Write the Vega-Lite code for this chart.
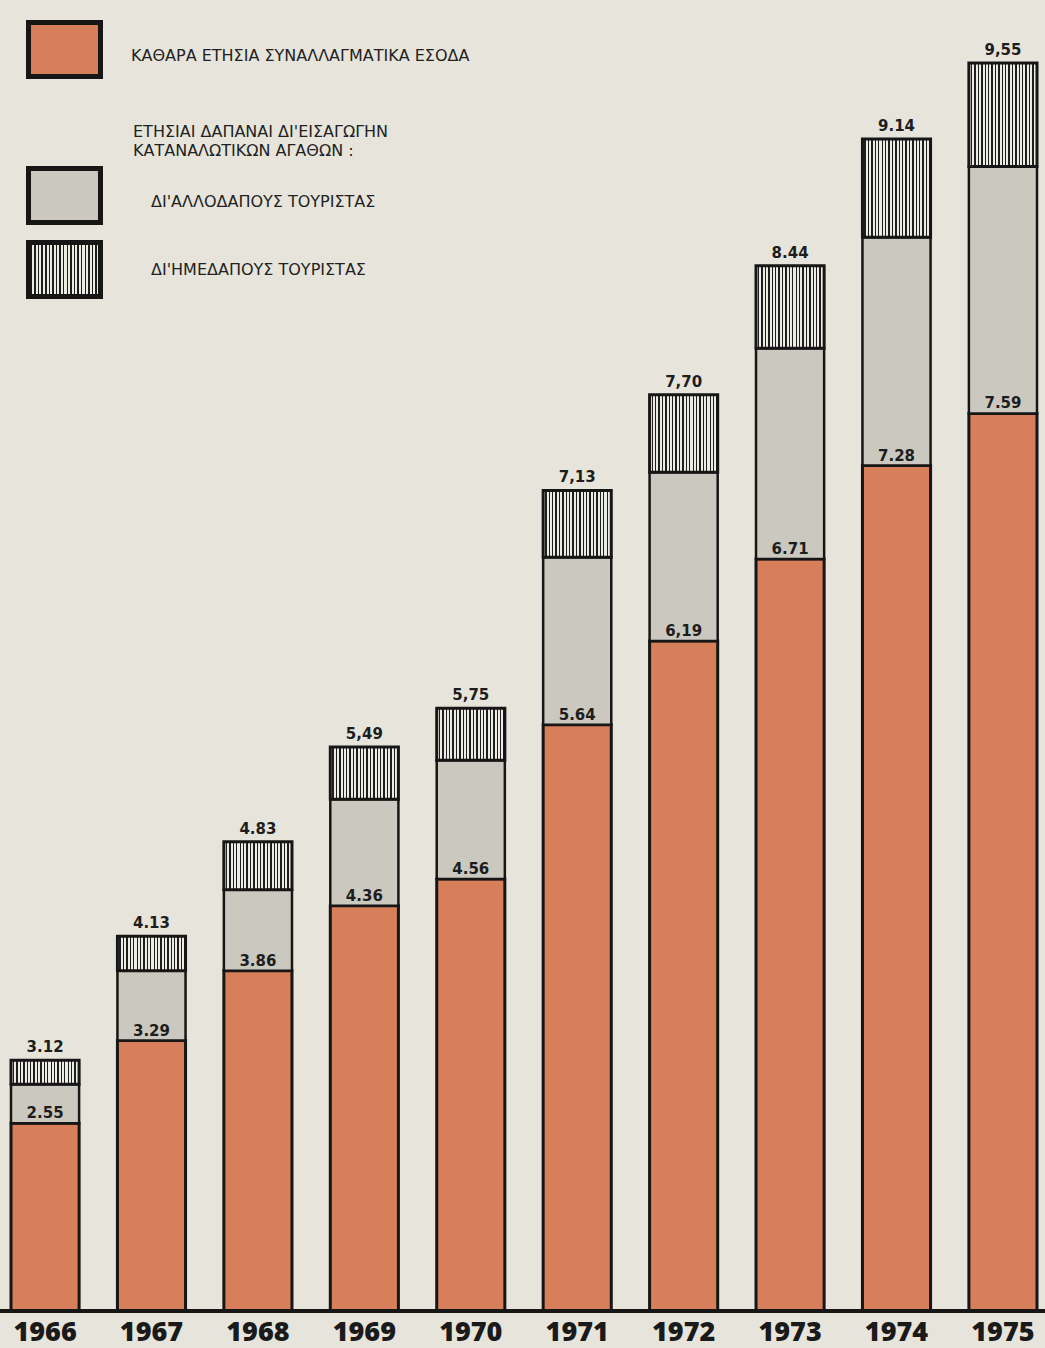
{
  "$schema": "https://vega.github.io/schema/vega-lite/v6.json",
  "width": 1045,
  "height": 1311,
  "autosize": {"type": "none"},
  "padding": {"left": 0, "top": 0, "right": 0, "bottom": 37},
  "background": "#e7e5db",
  "title": {
    "text": ["ΕΤΗΣΙΑΙ ΔΑΠΑΝΑΙ ΔΙ'ΕΙΣΑΓΩΓΗΝ", "ΚΑΤΑΝΑΛΩΤΙΚΩΝ ΑΓΑΘΩΝ :"],
    "anchor": "start",
    "frame": "group",
    "offset": 0,
    "dx": 133,
    "dy": 159,
    "baseline": "top",
    "font": "DejaVu Sans",
    "fontSize": 16,
    "fontWeight": "normal",
    "color": "#222222",
    "lineHeight": 19
  },
  "data": {
    "values": [
      {"year": "1966", "series": "ΚΑΘΑΡΑ ΕΤΗΣΙΑ ΣΥΝΑΛΛΑΓΜΑΤΙΚΑ ΕΣΟΔΑ", "stack_order": 1, "amount": 2.55, "label": "2.55"},
      {"year": "1966", "series": "ΔΙ'ΑΛΛΟΔΑΠΟΥΣ ΤΟΥΡΙΣΤΑΣ", "stack_order": 2, "amount": 0.36, "label": ""},
      {"year": "1966", "series": "ΔΙ'ΗΜΕΔΑΠΟΥΣ ΤΟΥΡΙΣΤΑΣ", "stack_order": 3, "amount": 0.21, "label": "3.12"},
      {"year": "1967", "series": "ΚΑΘΑΡΑ ΕΤΗΣΙΑ ΣΥΝΑΛΛΑΓΜΑΤΙΚΑ ΕΣΟΔΑ", "stack_order": 1, "amount": 3.29, "label": "3.29"},
      {"year": "1967", "series": "ΔΙ'ΑΛΛΟΔΑΠΟΥΣ ΤΟΥΡΙΣΤΑΣ", "stack_order": 2, "amount": 0.57, "label": ""},
      {"year": "1967", "series": "ΔΙ'ΗΜΕΔΑΠΟΥΣ ΤΟΥΡΙΣΤΑΣ", "stack_order": 3, "amount": 0.27, "label": "4.13"},
      {"year": "1968", "series": "ΚΑΘΑΡΑ ΕΤΗΣΙΑ ΣΥΝΑΛΛΑΓΜΑΤΙΚΑ ΕΣΟΔΑ", "stack_order": 1, "amount": 3.86, "label": "3.86"},
      {"year": "1968", "series": "ΔΙ'ΑΛΛΟΔΑΠΟΥΣ ΤΟΥΡΙΣΤΑΣ", "stack_order": 2, "amount": 0.62, "label": ""},
      {"year": "1968", "series": "ΔΙ'ΗΜΕΔΑΠΟΥΣ ΤΟΥΡΙΣΤΑΣ", "stack_order": 3, "amount": 0.35, "label": "4.83"},
      {"year": "1969", "series": "ΚΑΘΑΡΑ ΕΤΗΣΙΑ ΣΥΝΑΛΛΑΓΜΑΤΙΚΑ ΕΣΟΔΑ", "stack_order": 1, "amount": 4.36, "label": "4.36"},
      {"year": "1969", "series": "ΔΙ'ΑΛΛΟΔΑΠΟΥΣ ΤΟΥΡΙΣΤΑΣ", "stack_order": 2, "amount": 0.77, "label": ""},
      {"year": "1969", "series": "ΔΙ'ΗΜΕΔΑΠΟΥΣ ΤΟΥΡΙΣΤΑΣ", "stack_order": 3, "amount": 0.36, "label": "5,49"},
      {"year": "1970", "series": "ΚΑΘΑΡΑ ΕΤΗΣΙΑ ΣΥΝΑΛΛΑΓΜΑΤΙΚΑ ΕΣΟΔΑ", "stack_order": 1, "amount": 4.56, "label": "4.56"},
      {"year": "1970", "series": "ΔΙ'ΑΛΛΟΔΑΠΟΥΣ ΤΟΥΡΙΣΤΑΣ", "stack_order": 2, "amount": 0.84, "label": ""},
      {"year": "1970", "series": "ΔΙ'ΗΜΕΔΑΠΟΥΣ ΤΟΥΡΙΣΤΑΣ", "stack_order": 3, "amount": 0.35, "label": "5,75"},
      {"year": "1971", "series": "ΚΑΘΑΡΑ ΕΤΗΣΙΑ ΣΥΝΑΛΛΑΓΜΑΤΙΚΑ ΕΣΟΔΑ", "stack_order": 1, "amount": 5.64, "label": "5.64"},
      {"year": "1971", "series": "ΔΙ'ΑΛΛΟΔΑΠΟΥΣ ΤΟΥΡΙΣΤΑΣ", "stack_order": 2, "amount": 1.08, "label": ""},
      {"year": "1971", "series": "ΔΙ'ΗΜΕΔΑΠΟΥΣ ΤΟΥΡΙΣΤΑΣ", "stack_order": 3, "amount": 0.41, "label": "7,13"},
      {"year": "1972", "series": "ΚΑΘΑΡΑ ΕΤΗΣΙΑ ΣΥΝΑΛΛΑΓΜΑΤΙΚΑ ΕΣΟΔΑ", "stack_order": 1, "amount": 6.19, "label": "6,19"},
      {"year": "1972", "series": "ΔΙ'ΑΛΛΟΔΑΠΟΥΣ ΤΟΥΡΙΣΤΑΣ", "stack_order": 2, "amount": 1.05, "label": ""},
      {"year": "1972", "series": "ΔΙ'ΗΜΕΔΑΠΟΥΣ ΤΟΥΡΙΣΤΑΣ", "stack_order": 3, "amount": 0.46, "label": "7,70"},
      {"year": "1973", "series": "ΚΑΘΑΡΑ ΕΤΗΣΙΑ ΣΥΝΑΛΛΑΓΜΑΤΙΚΑ ΕΣΟΔΑ", "stack_order": 1, "amount": 6.71, "label": "6.71"},
      {"year": "1973", "series": "ΔΙ'ΑΛΛΟΔΑΠΟΥΣ ΤΟΥΡΙΣΤΑΣ", "stack_order": 2, "amount": 1.26, "label": ""},
      {"year": "1973", "series": "ΔΙ'ΗΜΕΔΑΠΟΥΣ ΤΟΥΡΙΣΤΑΣ", "stack_order": 3, "amount": 0.47, "label": "8.44"},
      {"year": "1974", "series": "ΚΑΘΑΡΑ ΕΤΗΣΙΑ ΣΥΝΑΛΛΑΓΜΑΤΙΚΑ ΕΣΟΔΑ", "stack_order": 1, "amount": 7.28, "label": "7.28"},
      {"year": "1974", "series": "ΔΙ'ΑΛΛΟΔΑΠΟΥΣ ΤΟΥΡΙΣΤΑΣ", "stack_order": 2, "amount": 1.32, "label": ""},
      {"year": "1974", "series": "ΔΙ'ΗΜΕΔΑΠΟΥΣ ΤΟΥΡΙΣΤΑΣ", "stack_order": 3, "amount": 0.54, "label": "9.14"},
      {"year": "1975", "series": "ΚΑΘΑΡΑ ΕΤΗΣΙΑ ΣΥΝΑΛΛΑΓΜΑΤΙΚΑ ΕΣΟΔΑ", "stack_order": 1, "amount": 7.59, "label": "7.59"},
      {"year": "1975", "series": "ΔΙ'ΑΛΛΟΔΑΠΟΥΣ ΤΟΥΡΙΣΤΑΣ", "stack_order": 2, "amount": 1.40, "label": ""},
      {"year": "1975", "series": "ΔΙ'ΗΜΕΔΑΠΟΥΣ ΤΟΥΡΙΣΤΑΣ", "stack_order": 3, "amount": 0.56, "label": "9,55"}
    ]
  },
  "transform": [
    {"stack": "amount", "groupby": ["year"], "sort": [{"field": "stack_order", "order": "ascending"}], "as": ["lo", "hi"]}
  ],
  "layer": [
    {
      "transform": [{"filter": "datum.stack_order == 1"}],
      "mark": {"type": "bar", "stroke": "#161616", "strokeWidth": 3},
      "encoding": {
        "x": {"field": "year", "type": "ordinal", "scale": {"range": [11, 1037], "paddingInner": 0.36, "paddingOuter": 0},
              "axis": {"title": null, "domain": false, "ticks": false, "labelAngle": 0, "labelFont": "Open Sans", "labelFontSize": 27, "labelFontWeight": 800, "labelColor": "#1a1a1a", "labelPadding": 8}},
        "y": {"field": "hi", "type": "quantitative", "scale": {"type": "pow", "exponent": 1.435, "domain": [0, 9.883], "nice": false, "zero": true}, "axis": null},
        "y2": {"field": "lo"},
        "fill": {"field": "series", "type": "nominal",
                 "scale": {"domain": ["ΚΑΘΑΡΑ ΕΤΗΣΙΑ ΣΥΝΑΛΛΑΓΜΑΤΙΚΑ ΕΣΟΔΑ"], "range": ["#d67f5a"]},
                 "legend": {"title": null, "orient": "none", "legendX": 35, "legendY": 20, "padding": 0,
                            "symbolType": "M-1.333,-1L1.333,-1L1.333,1L-1.333,1Z", "symbolSize": 2916,
                            "symbolStrokeColor": "#161616", "symbolStrokeWidth": 5, "symbolOpacity": 1,
                            "labelOffset": 37, "labelFont": "DejaVu Sans", "labelFontSize": 16, "labelColor": "#222222", "labelLimit": 0,
                            "encode": {"labels": {"update": {"dy": {"value": 6}}}}}}
      }
    },
    {
      "transform": [{"filter": "datum.stack_order == 2"}],
      "mark": {"type": "bar", "stroke": "#161616", "strokeWidth": 2.5},
      "encoding": {
        "x": {"field": "year", "type": "ordinal", "scale": {"range": [11, 1037], "paddingInner": 0.36, "paddingOuter": 0},
              "axis": {"title": null, "domain": false, "ticks": false, "labelAngle": 0, "labelFont": "Open Sans", "labelFontSize": 27, "labelFontWeight": 800, "labelColor": "#1a1a1a", "labelPadding": 8}},
        "y": {"field": "hi", "type": "quantitative", "scale": {"type": "pow", "exponent": 1.435, "domain": [0, 9.883], "nice": false, "zero": true}, "axis": null},
        "y2": {"field": "lo"},
        "fill": {"field": "series", "type": "nominal",
                 "scale": {"domain": ["ΔΙ'ΑΛΛΟΔΑΠΟΥΣ ΤΟΥΡΙΣΤΑΣ"], "range": ["#cac8bf"]},
                 "legend": {"title": null, "orient": "none", "legendX": 35, "legendY": 166, "padding": 0,
                            "symbolType": "M-1.333,-1L1.333,-1L1.333,1L-1.333,1Z", "symbolSize": 2916,
                            "symbolStrokeColor": "#161616", "symbolStrokeWidth": 5, "symbolOpacity": 1,
                            "labelOffset": 57, "labelFont": "DejaVu Sans", "labelFontSize": 16, "labelColor": "#222222", "labelLimit": 0,
                            "encode": {"labels": {"update": {"dy": {"value": 6}}}}}}
      }
    },
    {
      "transform": [{"filter": "datum.stack_order == 3"}],
      "mark": {"type": "bar", "strokeWidth": 3,
               "fill": {"gradient": "linear", "x1": 0, "y1": 0, "x2": 1, "y2": 0, "stops": [
                             {"offset": 0.00, "color": "#ecebe4"}, {"offset": 0.03, "color": "#ecebe4"}, {"offset": 0.03, "color": "#1e1e1e"}, {"offset": 0.05, "color": "#1e1e1e"},
                             {"offset": 0.05, "color": "#ecebe4"}, {"offset": 0.08, "color": "#ecebe4"}, {"offset": 0.08, "color": "#1e1e1e"}, {"offset": 0.10, "color": "#1e1e1e"},
                             {"offset": 0.10, "color": "#ecebe4"}, {"offset": 0.13, "color": "#ecebe4"}, {"offset": 0.13, "color": "#1e1e1e"}, {"offset": 0.15, "color": "#1e1e1e"},
                             {"offset": 0.15, "color": "#ecebe4"}, {"offset": 0.18, "color": "#ecebe4"}, {"offset": 0.18, "color": "#1e1e1e"}, {"offset": 0.20, "color": "#1e1e1e"},
                             {"offset": 0.20, "color": "#ecebe4"}, {"offset": 0.23, "color": "#ecebe4"}, {"offset": 0.23, "color": "#1e1e1e"}, {"offset": 0.25, "color": "#1e1e1e"},
                             {"offset": 0.25, "color": "#ecebe4"}, {"offset": 0.28, "color": "#ecebe4"}, {"offset": 0.28, "color": "#1e1e1e"}, {"offset": 0.30, "color": "#1e1e1e"},
                             {"offset": 0.30, "color": "#ecebe4"}, {"offset": 0.33, "color": "#ecebe4"}, {"offset": 0.33, "color": "#1e1e1e"}, {"offset": 0.35, "color": "#1e1e1e"},
                             {"offset": 0.35, "color": "#ecebe4"}, {"offset": 0.38, "color": "#ecebe4"}, {"offset": 0.38, "color": "#1e1e1e"}, {"offset": 0.40, "color": "#1e1e1e"},
                             {"offset": 0.40, "color": "#ecebe4"}, {"offset": 0.43, "color": "#ecebe4"}, {"offset": 0.43, "color": "#1e1e1e"}, {"offset": 0.45, "color": "#1e1e1e"},
                             {"offset": 0.45, "color": "#ecebe4"}, {"offset": 0.48, "color": "#ecebe4"}, {"offset": 0.48, "color": "#1e1e1e"}, {"offset": 0.50, "color": "#1e1e1e"},
                             {"offset": 0.50, "color": "#ecebe4"}, {"offset": 0.53, "color": "#ecebe4"}, {"offset": 0.53, "color": "#1e1e1e"}, {"offset": 0.55, "color": "#1e1e1e"},
                             {"offset": 0.55, "color": "#ecebe4"}, {"offset": 0.58, "color": "#ecebe4"}, {"offset": 0.58, "color": "#1e1e1e"}, {"offset": 0.60, "color": "#1e1e1e"},
                             {"offset": 0.60, "color": "#ecebe4"}, {"offset": 0.63, "color": "#ecebe4"}, {"offset": 0.63, "color": "#1e1e1e"}, {"offset": 0.65, "color": "#1e1e1e"},
                             {"offset": 0.65, "color": "#ecebe4"}, {"offset": 0.68, "color": "#ecebe4"}, {"offset": 0.68, "color": "#1e1e1e"}, {"offset": 0.70, "color": "#1e1e1e"},
                             {"offset": 0.70, "color": "#ecebe4"}, {"offset": 0.73, "color": "#ecebe4"}, {"offset": 0.73, "color": "#1e1e1e"}, {"offset": 0.75, "color": "#1e1e1e"},
                             {"offset": 0.75, "color": "#ecebe4"}, {"offset": 0.78, "color": "#ecebe4"}, {"offset": 0.78, "color": "#1e1e1e"}, {"offset": 0.80, "color": "#1e1e1e"},
                             {"offset": 0.80, "color": "#ecebe4"}, {"offset": 0.83, "color": "#ecebe4"}, {"offset": 0.83, "color": "#1e1e1e"}, {"offset": 0.85, "color": "#1e1e1e"},
                             {"offset": 0.85, "color": "#ecebe4"}, {"offset": 0.88, "color": "#ecebe4"}, {"offset": 0.88, "color": "#1e1e1e"}, {"offset": 0.90, "color": "#1e1e1e"},
                             {"offset": 0.90, "color": "#ecebe4"}, {"offset": 0.93, "color": "#ecebe4"}, {"offset": 0.93, "color": "#1e1e1e"}, {"offset": 0.95, "color": "#1e1e1e"},
                             {"offset": 0.95, "color": "#ecebe4"}, {"offset": 0.98, "color": "#ecebe4"}, {"offset": 0.98, "color": "#1e1e1e"}, {"offset": 1.00, "color": "#1e1e1e"}
                           ]}},
      "encoding": {
        "x": {"field": "year", "type": "ordinal", "scale": {"range": [11, 1037], "paddingInner": 0.36, "paddingOuter": 0},
              "axis": {"title": null, "domain": false, "ticks": false, "labelAngle": 0, "labelFont": "Open Sans", "labelFontSize": 27, "labelFontWeight": 800, "labelColor": "#1a1a1a", "labelPadding": 8}},
        "y": {"field": "hi", "type": "quantitative", "scale": {"type": "pow", "exponent": 1.435, "domain": [0, 9.883], "nice": false, "zero": true}, "axis": null},
        "y2": {"field": "lo"},
        "stroke": {"field": "series", "type": "nominal",
                   "scale": {"domain": ["ΔΙ'ΗΜΕΔΑΠΟΥΣ ΤΟΥΡΙΣΤΑΣ"], "range": ["#161616"]},
                   "legend": {"title": null, "orient": "none", "legendX": 35, "legendY": 240, "padding": 0,
                              "symbolType": "M-1.333,-1L1.333,-1L1.333,1L-1.333,1Z", "symbolSize": 2916,
                              "symbolStrokeWidth": 5, "symbolOpacity": 1,
                              "labelOffset": 57, "labelFont": "DejaVu Sans", "labelFontSize": 16, "labelColor": "#222222", "labelLimit": 0,
                              "encode": {"labels": {"update": {"dy": {"value": 6}}}}}}
      }
    },
    {
      "transform": [{"filter": "datum.stack_order == 1"}],
      "mark": {"type": "text", "baseline": "alphabetic", "dy": -5, "font": "DejaVu Sans", "fontSize": 15, "fontWeight": "bold", "color": "#1d1d1d"},
      "encoding": {
        "x": {"field": "year", "type": "ordinal", "scale": {"range": [11, 1037], "paddingInner": 0.36, "paddingOuter": 0},
              "axis": {"title": null, "domain": false, "ticks": false, "labelAngle": 0, "labelFont": "Open Sans", "labelFontSize": 27, "labelFontWeight": 800, "labelColor": "#1a1a1a", "labelPadding": 8}},
        "y": {"field": "hi", "type": "quantitative", "scale": {"type": "pow", "exponent": 1.435, "domain": [0, 9.883], "nice": false, "zero": true}, "axis": null},
        "text": {"field": "label"}
      }
    },
    {
      "transform": [{"filter": "datum.stack_order == 3"}],
      "mark": {"type": "text", "baseline": "alphabetic", "dy": -8, "font": "DejaVu Sans", "fontSize": 15, "fontWeight": "bold", "color": "#1d1d1d"},
      "encoding": {
        "x": {"field": "year", "type": "ordinal", "scale": {"range": [11, 1037], "paddingInner": 0.36, "paddingOuter": 0},
              "axis": {"title": null, "domain": false, "ticks": false, "labelAngle": 0, "labelFont": "Open Sans", "labelFontSize": 27, "labelFontWeight": 800, "labelColor": "#1a1a1a", "labelPadding": 8}},
        "y": {"field": "hi", "type": "quantitative", "scale": {"type": "pow", "exponent": 1.435, "domain": [0, 9.883], "nice": false, "zero": true}, "axis": null},
        "text": {"field": "label"}
      }
    },
    {
      "mark": {"type": "rule", "stroke": "#161616", "strokeWidth": 4},
      "encoding": {
        "y": {"datum": 0, "type": "quantitative", "scale": {"type": "pow", "exponent": 1.435, "domain": [0, 9.883], "nice": false, "zero": true}, "axis": null}
      }
    }
  ],
  "resolve": {"scale": {"fill": "independent"}, "legend": {"fill": "independent"}},
  "config": {"view": {"stroke": null}}
}
